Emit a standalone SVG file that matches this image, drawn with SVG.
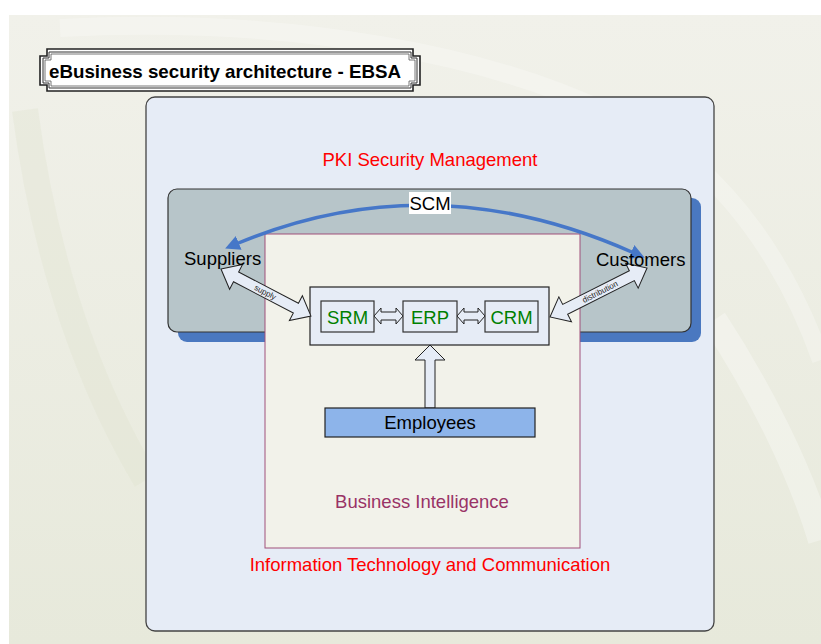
<svg xmlns="http://www.w3.org/2000/svg" width="821" height="644" viewBox="0 0 821 644">
<defs>
<linearGradient id="bg" x1="0" y1="0" x2="0" y2="1">
<stop offset="0" stop-color="#f1f1ea"/>
<stop offset="1" stop-color="#e7e9db"/>
</linearGradient>
<marker id="scmHead" viewBox="0 0 10 10" refX="2" refY="5" markerWidth="4.2" markerHeight="4.2" orient="auto-start-reverse" markerUnits="strokeWidth">
<path d="M0,0 L10,5 L0,10 Z" fill="#4677c8"/>
</marker>
<style>
.lbl{font-family:"Liberation Sans",Arial,sans-serif;font-size:18.5px;}
.red{fill:#ff0000;}
.green{fill:#008000;}
.blk{fill:#000;}
.small{font-family:"Liberation Sans",Arial,sans-serif;font-size:8px;fill:#222;}
.blockArrow{fill:#e6ecf6;stroke:#222;stroke-width:1;}
.module{fill:#e6ecf6;stroke:#333;stroke-width:1.2;}
</style>
</defs>

<!-- background -->
<rect x="0" y="0" width="821" height="644" fill="#ffffff"/>
<rect x="9" y="15" width="812" height="629" fill="url(#bg)"/>
<g id="decor" fill="none">
<path d="M25,110 C50,300 110,420 146,480" stroke="#dfe3cf" stroke-width="26" opacity="0.35"/>
<path d="M60,28 C250,18 520,40 690,160 C760,220 800,300 821,360" stroke="#ffffff" stroke-width="18" opacity="0.25"/>
<path d="M714,320 C760,390 800,470 821,540" stroke="#ffffff" stroke-width="26" opacity="0.3"/>
</g>

<!-- title plaque -->
<g id="title">
<path d="M47,49 H413 V56 H420 V85 H413 V91 H47 V85 H40 V56 H47 Z" fill="#ffffff" stroke="#222" stroke-width="1.6"/>
<path d="M49,52 H411 V58 H417 V83 H411 V88 H49 V83 H43 V58 H49 Z" fill="none" stroke="#333" stroke-width="1"/>
<path d="M51,54 H409 V60 H415 V81 H409 V86 H51 V81 H45 V60 H51 Z" fill="#ffffff" stroke="#555" stroke-width="0.8"/>
<text x="49" y="78" font-family="Liberation Sans, Arial, sans-serif" font-size="18.5" font-weight="bold" fill="#000" textLength="352" lengthAdjust="spacingAndGlyphs">eBusiness security architecture - EBSA</text>
</g>

<!-- outer PKI container -->
<g id="pki">
<rect x="146" y="97" width="568" height="534" rx="9" ry="9" fill="#e6ecf6" stroke="#444" stroke-width="1.3"/>
<text class="lbl red" x="430" y="166" text-anchor="middle">PKI Security Management</text>
</g>

<!-- SCM gray panel -->
<g id="scm-panel">
<rect x="178" y="198" width="523" height="144" rx="9" ry="9" fill="#4a78c0"/>
<rect x="168" y="189" width="523" height="143" rx="9" ry="9" fill="#b7c5c9" stroke="#333" stroke-width="1.2"/>
</g>

<!-- IT / BI inner box -->
<g id="bi">
<rect x="265" y="234" width="315" height="314" fill="#f2f2ea" stroke="#a0507a" stroke-width="1"/>
<text class="lbl" x="422" y="508" text-anchor="middle" fill="#993366">Business Intelligence</text>
</g>

<g id="itc">
<text class="lbl red" x="430" y="571" text-anchor="middle">Information Technology and Communication</text>
</g>

<!-- modules container -->
<g id="modules">
<rect x="310" y="287" width="239" height="58" fill="#e6ecf6" stroke="#222" stroke-width="1.2"/>
</g>

<!-- connectors -->
<g id="connectors">
<path d="M236,244 Q430,162 634,253" fill="none" stroke="#4677c8" stroke-width="3.5" marker-start="url(#scmHead)" marker-end="url(#scmHead)"/>
<g transform="translate(221,269) rotate(27.6)">
<polygon class="blockArrow" points="0,0 17,-14 17,-5.5 84.5,-5.5 84.5,-14 101.5,0 84.5,14 84.5,5.5 17,5.5 17,14"/>
<text class="small" x="50" y="2.8" text-anchor="middle">supply</text>
</g>
<g transform="translate(550,317) rotate(-26.8)">
<polygon class="blockArrow" points="0,0 17,-14 17,-5.5 91.7,-5.5 91.7,-14 108.7,0 91.7,14 91.7,5.5 17,5.5 17,14"/>
<text class="small" x="56" y="2.8" text-anchor="middle">distribution</text>
</g>
<polygon class="blockArrow" points="374,316 381,308 381,312 396,312 396,308 403,316 396,324 396,320 381,320 381,324"/>
<polygon class="blockArrow" points="457,316 464,308 464,312 478,312 478,308 485,316 478,324 478,320 464,320 464,324"/>
<polygon class="blockArrow" points="430,345 445,360 435,360 435,408 425,408 425,360 415,360"/>
</g>

<!-- SCM label -->
<g id="scm">
<rect x="409" y="192" width="42" height="22" fill="#ffffff"/>
<text class="lbl blk" x="430" y="210" text-anchor="middle">SCM</text>
</g>

<g id="suppliers">
<text class="lbl blk" x="184" y="265">Suppliers</text>
</g>
<g id="customers">
<text class="lbl blk" x="596" y="266">Customers</text>
</g>

<g id="srm">
<rect class="module" x="321" y="301" width="53" height="31"/>
<text class="lbl green" x="347.5" y="324" text-anchor="middle">SRM</text>
</g>
<g id="erp">
<rect class="module" x="403" y="301" width="54" height="31"/>
<text class="lbl green" x="430" y="324" text-anchor="middle">ERP</text>
</g>
<g id="crm">
<rect class="module" x="485" y="301" width="53" height="31"/>
<text class="lbl green" x="511.5" y="324" text-anchor="middle">CRM</text>
</g>

<g id="employees">
<rect x="325" y="408" width="210" height="29" fill="#8db4ea" stroke="#222" stroke-width="1.2"/>
<text class="lbl blk" x="430" y="429" text-anchor="middle">Employees</text>
</g>
</svg>
